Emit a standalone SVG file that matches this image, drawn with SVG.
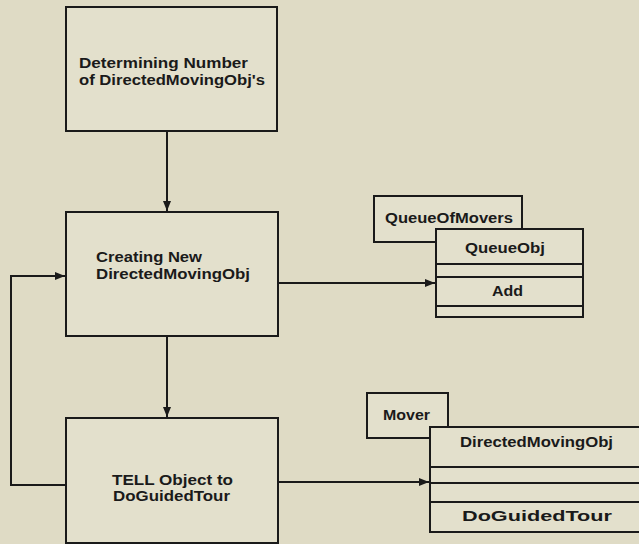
<svg xmlns="http://www.w3.org/2000/svg" width="639" height="544" viewBox="0 0 639 544">
<style>
.bg{fill:#dfdbc5}
.box{fill:#e3e0cc;stroke:#1a1a1a;stroke-width:2}
.ln{fill:none;stroke:#1a1a1a;stroke-width:2}
.t{font-family:"Liberation Sans",Arial,sans-serif;font-weight:bold;font-size:14px;fill:#1a1a1a}
.c{text-anchor:middle}
</style>
<defs>
<marker id="ah" markerWidth="10" markerHeight="8" refX="10" refY="4" orient="auto" markerUnits="userSpaceOnUse">
<path d="M0,0 L10,4 L0,8 Z" fill="#1a1a1a"/>
</marker>
</defs>
<rect class="bg" x="0" y="0" width="639" height="544"/>
<g id="connectors">
<line class="ln" x1="167" y1="131" x2="167" y2="211" marker-end="url(#ah)"/>
<line class="ln" x1="167" y1="336" x2="167" y2="417" marker-end="url(#ah)"/>
<polyline class="ln" points="66,485 11,485 11,276 65,276" marker-end="url(#ah)"/>
<line class="ln" x1="278" y1="283" x2="435" y2="283" marker-end="url(#ah)"/>
<line class="ln" x1="278" y1="482" x2="429" y2="482" marker-end="url(#ah)"/>
</g>
<g id="n1">
<rect class="box" x="66" y="7" width="211" height="124"/>
<text class="t" x="79" y="68" textLength="169" lengthAdjust="spacingAndGlyphs">Determining Number</text>
<text class="t" x="79" y="85" textLength="186" lengthAdjust="spacingAndGlyphs">of DirectedMovingObj's</text>
</g>
<g id="n2">
<rect class="box" x="66" y="212" width="212" height="124"/>
<text class="t" x="96" y="262" textLength="106" lengthAdjust="spacingAndGlyphs">Creating New</text>
<text class="t" x="96" y="279" textLength="154" lengthAdjust="spacingAndGlyphs">DirectedMovingObj</text>
</g>
<g id="n3">
<rect class="box" x="66" y="418" width="212" height="125"/>
<text class="t" x="112" y="485" textLength="121" lengthAdjust="spacingAndGlyphs">TELL Object to</text>
<text class="t" x="113" y="501" textLength="117" lengthAdjust="spacingAndGlyphs">DoGuidedTour</text>
</g>
<g id="queueOfMovers">
<rect class="box" x="374" y="196" width="148" height="46"/>
<text class="t" x="385" y="223" textLength="128" lengthAdjust="spacingAndGlyphs">QueueOfMovers</text>
</g>
<g id="queueObj">
<rect class="box" x="436" y="229" width="147" height="88"/>
<line class="ln" x1="436" y1="264" x2="583" y2="264"/>
<line class="ln" x1="436" y1="277" x2="583" y2="277"/>
<line class="ln" x1="436" y1="306" x2="583" y2="306"/>
<text class="t" x="465" y="253" textLength="80" lengthAdjust="spacingAndGlyphs">QueueObj</text>
<text class="t" x="492" y="296" textLength="31" lengthAdjust="spacingAndGlyphs">Add</text>
</g>
<g id="mover">
<rect class="box" x="367" y="393" width="81" height="45"/>
<text class="t" x="383" y="420" textLength="47" lengthAdjust="spacingAndGlyphs">Mover</text>
</g>
<g id="directedMovingObj">
<rect class="box" x="430" y="427" width="220" height="105"/>
<line class="ln" x1="430" y1="467" x2="650" y2="467"/>
<line class="ln" x1="430" y1="483" x2="650" y2="483"/>
<line class="ln" x1="430" y1="502" x2="650" y2="502"/>
<text class="t" x="460" y="447" textLength="153" lengthAdjust="spacingAndGlyphs">DirectedMovingObj</text>
<text class="t" x="462" y="521" textLength="150" lengthAdjust="spacingAndGlyphs">DoGuidedTour</text>
</g>
</svg>
